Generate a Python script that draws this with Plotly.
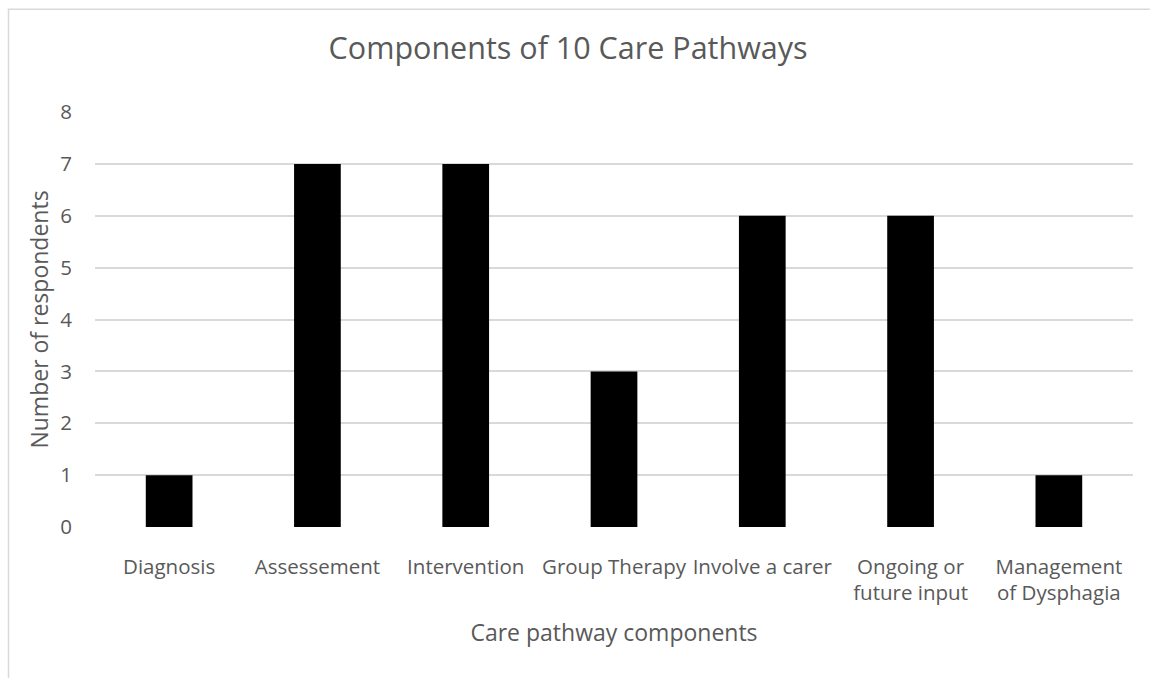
import plotly.graph_objects as go

# Care pathway components and number of respondents mentioning each
categories = [
    "Diagnosis",
    "Assessement",
    "Intervention",
    "Group Therapy",
    "Involve a carer",
    "Ongoing or<br>future input",
    "Management<br>of Dysphagia",
]
respondents = [1, 7, 7, 3, 6, 6, 1]
y_ticks = [0, 1, 2, 3, 4, 5, 6, 7, 8]

TEXT = "#595959"
GRID = "#d9d9d9"
FONT = "Open Sans"

fig = go.Figure(
    go.Bar(
        x=categories,
        y=respondents,
        marker=dict(color="#000000", line=dict(width=0)),
        hoverinfo="x+y",
    )
)

W, H = 1150, 678
L, R, T, B = 95, 17, 111.5, 150.5
pw = W - L - R
ph = H - T - B

fig.update_layout(
    width=W,
    height=H,
    margin=dict(l=L, r=R, t=T, b=B),
    paper_bgcolor="white",
    plot_bgcolor="white",
    bargap=0.685,
    showlegend=False,
    font=dict(family=FONT, color=TEXT),
    title=dict(
        text="Components of 10 Care Pathways",
        font=dict(family=FONT, size=30.5, color=TEXT),
        x=0.494,
        xanchor="center",
        y=1 - 48 / H,
        yanchor="middle",
    ),
    xaxis=dict(
        showgrid=False,
        showline=False,
        zeroline=False,
        ticks="",
        tickfont=dict(family=FONT, size=20.5, color=TEXT),
        ticklabelstandoff=25,
        title=dict(
            text="Care pathway components",
            font=dict(family=FONT, size=23, color=TEXT),
            standoff=19,
        ),
    ),
    yaxis=dict(
        range=[0, 8],
        tickvals=y_ticks,
        showgrid=True,
        gridcolor=GRID,
        gridwidth=1.5,
        zeroline=False,
        showline=False,
        ticks="",
        tickfont=dict(family=FONT, size=20.5, color=TEXT),
        ticklabelstandoff=22,
        title=dict(
            text="Number of respondents",
            font=dict(family=FONT, size=23, color=TEXT),
            standoff=5,
        ),
    ),
    shapes=[
        # chart frame, running off the right and bottom edges
        dict(
            type="rect",
            xref="paper",
            yref="paper",
            x0=(8.5 - L) / pw,
            x1=(W + 10 - L) / pw,
            y0=-(B + 10) / ph,
            y1=1 + (T - 8.5) / ph,
            line=dict(color=GRID, width=1.5),
            fillcolor="rgba(0,0,0,0)",
            layer="below",
        )
    ],
)

fig.write_html("out.html")
